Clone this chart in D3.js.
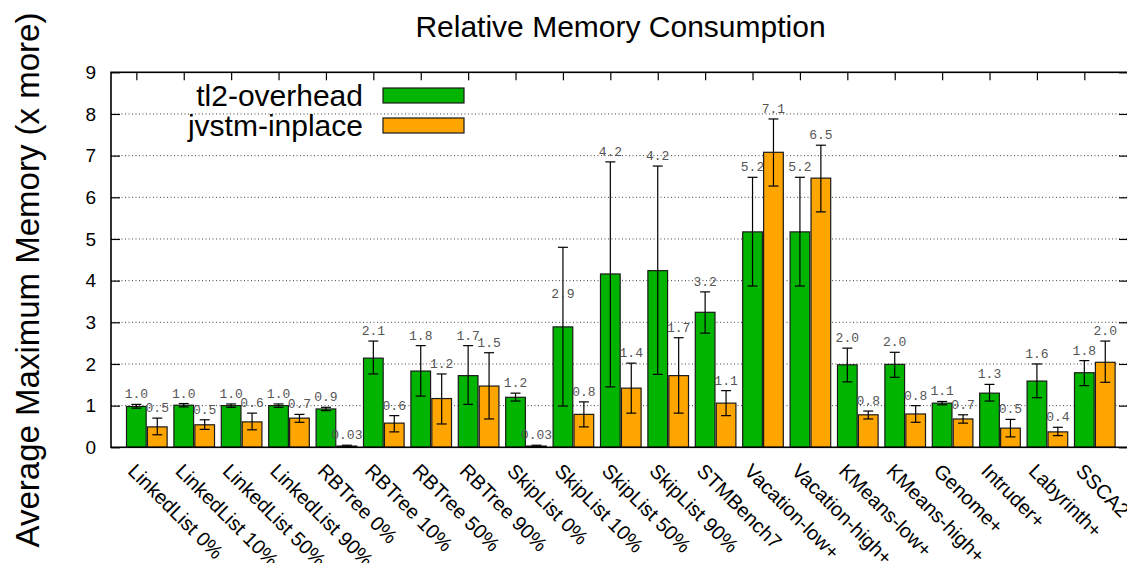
<!DOCTYPE html>
<html>
<head>
<meta charset="utf-8">
<script src="https://cdn.jsdelivr.net/npm/d3@7"></script>
<style>
  body { margin: 0; background: #fff; }
  svg { display: block; }
</style>
</head>
<body>
<svg id="chart" width="1127" height="563"></svg>
<script>
// Benchmarks on the x axis
const categories = [
  "LinkedList 0%", "LinkedList 10%", "LinkedList 50%", "LinkedList 90%",
  "RBTree 0%", "RBTree 10%", "RBTree 50%", "RBTree 90%",
  "SkipList 0%", "SkipList 10%", "SkipList 50%", "SkipList 90%",
  "STMBench7", "Vacation-low+", "Vacation-high+", "KMeans-low+",
  "KMeans-high+", "Genome+", "Intruder+", "Labyrinth+", "SSCA2"
];

const seriesNames = ["tl2-overhead", "jvstm-inplace"];

// tl2-overhead: mean, error-bar low / high, and level of the value label
const tl2Values  = [0.98, 1.01, 1.00, 1.00, 0.92, 2.14, 1.83, 1.72, 1.20, 2.89, 4.16, 4.24, 3.24, 5.17, 5.17, 1.98, 1.99, 1.06, 1.30, 1.59, 1.79];
const tl2Low     = [0.94, 0.97, 0.96, 0.96, 0.88, 1.76, 1.23, 1.03, 1.11, 0.99, 1.45, 1.75, 2.74, 3.87, 3.87, 1.57, 1.68, 1.02, 1.11, 1.19, 1.48];
const tl2High    = [1.03, 1.05, 1.04, 1.04, 0.96, 2.55, 2.44, 2.44, 1.30, 4.80, 6.85, 6.75, 3.73, 6.48, 6.48, 2.38, 2.28, 1.10, 1.51, 2.00, 2.08];
const tl2LabelAt = [1.03, 1.05, 1.04, 1.04, 0.96, 2.55, 2.44, 2.44, 1.30, 3.45, 6.85, 6.75, 3.73, 6.48, 6.48, 2.38, 2.28, 1.10, 1.51, 2.00, 2.08];

// jvstm-inplace: mean, error-bar low / high, and level of the value label
const jvstmValues  = [0.49, 0.54, 0.61, 0.70, 0.03, 0.58, 1.17, 1.47, 0.03, 0.79, 1.42, 1.72, 1.06, 7.08, 6.46, 0.78, 0.80, 0.68, 0.46, 0.37, 2.04];
const jvstmLow     = [0.30, 0.43, 0.42, 0.60, 0.01, 0.37, 0.56, 0.68, 0.01, 0.49, 0.82, 0.82, 0.76, 6.27, 5.65, 0.68, 0.60, 0.58, 0.25, 0.28, 1.56];
const jvstmHigh    = [0.70, 0.66, 0.82, 0.79, 0.05, 0.76, 1.76, 2.27, 0.05, 1.09, 2.02, 2.63, 1.36, 7.88, 7.25, 0.87, 1.00, 0.78, 0.67, 0.48, 2.55];
const jvstmLabelAt = [0.70, 0.66, 0.82, 0.79, 0.05, 0.76, 1.76, 2.27, 0.05, 1.09, 2.02, 2.63, 1.36, 7.88, 7.25, 0.87, 1.00, 0.78, 0.67, 0.48, 2.55];

const yTicks = [0, 1, 2, 3, 4, 5, 6, 7, 8, 9];
const gridTicks = [1, 2, 3, 4, 5, 6, 7, 8];

const colors = { "tl2-overhead": "#00b400", "jvstm-inplace": "#ffa500" };

// One row per benchmark and series
const series = [
  { name: "tl2-overhead",  values: tl2Values,   low: tl2Low,   high: tl2High,   labelAt: tl2LabelAt },
  { name: "jvstm-inplace", values: jvstmValues, low: jvstmLow, high: jvstmHigh, labelAt: jvstmLabelAt }
];
const rows = [];
categories.forEach((c, i) => {
  series.forEach(s => rows.push({
    category: c, series: s.name, value: s.values[i],
    low: s.low[i], high: s.high[i], labelAt: s.labelAt[i]
  }));
});

const fmt = v => v < 0.1 ? v.toFixed(2) : v.toFixed(1);

// Layout
const frame = { left: 111, right: 1128, top: 72.3, bottom: 447.3 };
const svg = d3.select("#chart");

const y = d3.scaleLinear().domain([0, 9]).range([frame.bottom, frame.top]);
const x = d3.scaleBand().domain(categories).range([126.5, 1115.1]).paddingInner(0.143);
const xs = d3.scaleBand().domain(seriesNames).range([0, x.bandwidth()]).paddingInner(0.06);
const greenCenter = c => x(c) + xs("tl2-overhead") + xs.bandwidth() / 2;

// Title
svg.append("text")
  .attr("x", 620.5).attr("y", 36.5)
  .attr("text-anchor", "middle")
  .style("font-family", "'Liberation Sans', Arial, sans-serif")
  .style("font-size", "30px")
  .text("Relative Memory Consumption");

// Y axis title
svg.append("text")
  .attr("transform", "translate(39,280) rotate(-90)")
  .attr("text-anchor", "middle")
  .style("font-family", "'Liberation Sans', Arial, sans-serif")
  .style("font-size", "33px")
  .text("Average Maximum Memory (x more)");

// Dotted grid
svg.append("g").selectAll("line")
  .data(gridTicks).join("line")
  .attr("x1", frame.left).attr("x2", frame.right)
  .attr("y1", d => y(d)).attr("y2", d => y(d))
  .attr("stroke", "#444").attr("stroke-width", 1)
  .attr("stroke-dasharray", "1,2.5");

// Bars
svg.append("g").selectAll("rect")
  .data(rows).join("rect")
  .attr("x", d => x(d.category) + xs(d.series))
  .attr("width", xs.bandwidth())
  .attr("y", d => y(d.value))
  .attr("height", d => y(0) - y(d.value))
  .attr("fill", d => colors[d.series])
  .attr("stroke", "#1a1a1a").attr("stroke-width", 1.2);

// Error bars
const capHalf = 5;
const eb = svg.append("g").attr("stroke", "#000").attr("stroke-width", 1.2);
rows.forEach(d => {
  const cx = x(d.category) + xs(d.series) + xs.bandwidth() / 2;
  eb.append("line").attr("x1", cx).attr("x2", cx).attr("y1", y(d.low)).attr("y2", y(d.high));
  eb.append("line").attr("x1", cx - capHalf).attr("x2", cx + capHalf).attr("y1", y(d.low)).attr("y2", y(d.low));
  eb.append("line").attr("x1", cx - capHalf).attr("x2", cx + capHalf).attr("y1", y(d.high)).attr("y2", y(d.high));
});

// Value labels
svg.append("g").selectAll("text")
  .data(rows).join("text")
  .attr("x", d => x(d.category) + xs(d.series) + xs.bandwidth() / 2)
  .attr("y", d => y(d.labelAt) - 6)
  .attr("text-anchor", "middle")
  .style("font-family", "'Liberation Mono', 'DejaVu Sans Mono', monospace")
  .style("font-size", "13px")
  .attr("fill", "#555")
  .text(d => fmt(d.value));

// Left axis: inward ticks with numeric labels
const leftAxis = svg.append("g")
  .attr("transform", `translate(${frame.left},0)`)
  .call(d3.axisLeft(y).tickValues(yTicks).tickSizeInner(-9).tickSizeOuter(0).tickPadding(15));
leftAxis.select(".domain").remove();
leftAxis.selectAll("line").attr("stroke", "#000").attr("stroke-width", 1.2);
leftAxis.selectAll("text")
  .style("font-family", "'Liberation Sans', Arial, sans-serif")
  .style("font-size", "19px").attr("fill", "#000");

// Right axis: inward ticks only
const rightAxis = svg.append("g")
  .attr("transform", `translate(${frame.right},0)`)
  .call(d3.axisRight(y).tickValues(yTicks).tickSizeInner(-9).tickSizeOuter(0).tickFormat(""));
rightAxis.select(".domain").remove();
rightAxis.selectAll("line").attr("stroke", "#000").attr("stroke-width", 1.2);

// Top axis: inward ticks at each benchmark
const topScale = d3.scaleOrdinal().domain(categories).range(categories.map(greenCenter));
const topAxis = svg.append("g")
  .attr("transform", `translate(0,${frame.top})`)
  .call(d3.axisTop(topScale).tickSizeInner(-8).tickSizeOuter(0).tickFormat(""));
topAxis.select(".domain").remove();
topAxis.selectAll("line").attr("stroke", "#000").attr("stroke-width", 1.2);

// Bottom axis: rotated benchmark names
const bottomAxis = svg.append("g")
  .attr("transform", `translate(0,${frame.bottom})`)
  .call(d3.axisBottom(x).tickSize(0));
bottomAxis.select(".domain").remove();
bottomAxis.selectAll("text")
  .attr("x", 0).attr("y", 0).attr("dy", null)
  .attr("text-anchor", "start")
  .attr("transform", "translate(-20,25) rotate(45)")
  .style("font-family", "'Liberation Sans', Arial, sans-serif")
  .style("font-size", "20px").attr("fill", "#000");

// Frame
svg.append("rect")
  .attr("x", frame.left).attr("y", frame.top)
  .attr("width", frame.right - frame.left).attr("height", frame.bottom - frame.top)
  .attr("fill", "none").attr("stroke", "#000").attr("stroke-width", 1.6);

// Legend
const legend = svg.append("g");
seriesNames.forEach((name, i) => {
  const cy = 95.5 + i * 30;
  legend.append("text")
    .attr("x", 363).attr("y", cy + 10.5)
    .attr("text-anchor", "end")
    .style("font-family", "'Liberation Sans', Arial, sans-serif")
    .style("font-size", "30px")
    .text(name);
  legend.append("rect")
    .attr("x", 383).attr("y", cy - 7.5)
    .attr("width", 81).attr("height", 15)
    .attr("fill", colors[name])
    .attr("stroke", "#1a1a1a").attr("stroke-width", 1.2);
});
</script>
</body>
</html>
